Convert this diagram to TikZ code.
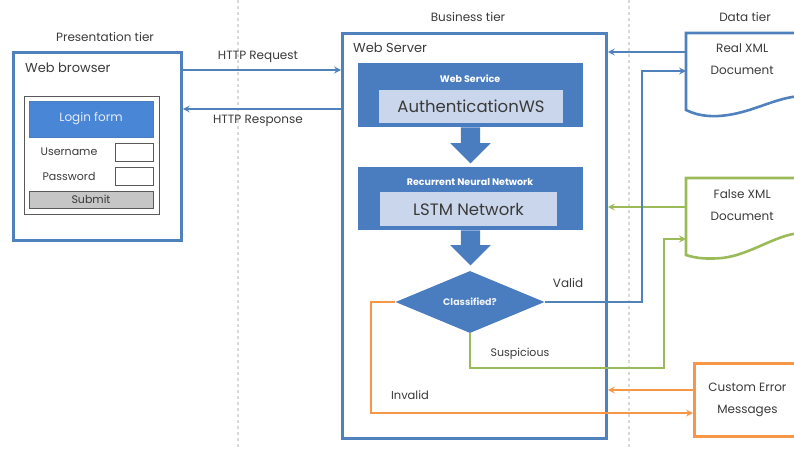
\documentclass[tikz,border=0pt]{standalone}
\usepackage{fontspec}
\setmainfont{Poppins}
\usetikzlibrary{positioning,shapes.geometric,shapes.arrows}
\definecolor{tierblue}{HTML}{4F81BD}
\definecolor{blockblue}{HTML}{4A7DC0}
\definecolor{loginblue}{HTML}{4A86D6}
\definecolor{innerblue}{HTML}{C9D6EB}
\definecolor{okgreen}{HTML}{9BBB59}
\definecolor{errorange}{HTML}{F79646}
\definecolor{txtgray}{HTML}{3A3A3A}
\begin{document}
\begin{tikzpicture}[x=1pt, y=-1pt,
    lbl/.style={font=\fontsize{12}{14}\selectfont, text=txtgray, inner sep=0pt},
    tierframe/.style={draw=#1, line width=2.8pt, anchor=north west, inner sep=0pt},
    block/.style={fill=blockblue, minimum width=225pt, minimum height=64pt, inner sep=0pt},
    innerbox/.style={fill=innerblue, minimum height=33pt, font=\fontsize{16.5}{18}\selectfont, text=txtgray, inner sep=0pt},
    blocktitle/.style={font=\fontsize{9.5}{11}\selectfont\bfseries, text=white, inner sep=0pt},
    fatarrow/.style={single arrow, fill=blockblue, inner sep=9.5pt, minimum height=36pt, single arrow head extend=10.5pt, single arrow head indent=0pt, shape border rotate=270, anchor=tail},
    docbox/.style={anchor=north west, minimum width=112pt, align=center, font=\fontsize{12}{22}\selectfont, text=txtgray, inner sep=0pt},
    field/.style={draw=gray!70!black, fill=white, line width=0.9pt, minimum width=38pt, minimum height=18pt, inner sep=0pt},
    link/.style={draw=#1, line width=2pt, ->, >=stealth},
    wire/.style={draw=#1, line width=2.6pt}
]
    \useasboundingbox (0,0) rectangle (794,450);

    % tier separators
    \foreach \xx in {238, 629} {
        \draw[gray!30, dashed, line width=1.3pt] (\xx,0) -- (\xx,450);
    }
    \node[lbl] (prestier) at (105,37) {Presentation tier};
    \node[lbl] (busitier) at (468,17) {Business tier};
    \node[lbl] (datatier) at (745,17) {Data tier};

    % Presentation tier
    \node[tierframe=tierblue, minimum width=168pt, minimum height=188pt] (browser) at (12,51) {};
    \node[lbl, anchor=west, font=\fontsize{13}{15}\selectfont] (browsertxt) at (25,68) {Web browser};
    \node[draw=gray!70!black, line width=0.9pt, anchor=north west, minimum width=135pt, minimum height=118pt] (form) at (24,96) {};
    \node[fill=loginblue, draw=blockblue, minimum width=124pt, minimum height=36pt, text=white!85!loginblue, font=\fontsize{12}{14}\selectfont] (login) at (91,119) {Login form};
    \foreach \lab/\yy in {Username/152, Password/176} {
        \node[lbl, font=\fontsize{11}{13}\selectfont] (lab\lab) at (69,\yy) {\lab};
        \node[field] (in\lab) at (134,\yy) {};
    }
    \node[fill=gray!45, draw=gray!70!black, line width=0.9pt, minimum width=124pt, minimum height=17pt, inner sep=0pt, font=\fontsize{11}{13}\selectfont, text=txtgray] (submit) at (91,199.5) {Submit};

    % Business tier
    \node[tierframe=tierblue, minimum width=264pt, minimum height=405pt] (server) at (341,32) {};
    \node[lbl, anchor=west, font=\fontsize{13}{15}\selectfont] (servertxt) at (353,48) {Web Server};

    \node[block] (websvc) at (470.5,95) {};
    \node[blocktitle] (websvctxt) at (470,79) {Web Service};
    \node[innerbox, minimum width=184pt] (authws) at (471,106.5) {AuthenticationWS};
    \node[fatarrow] (arrowa) at (websvc.south) {};

    \node[block, minimum height=63pt] (rnn) at (470.5,198.5) {};
    \node[blocktitle] (rnntxt) at (470,182) {Recurrent Neural Network};
    \node[innerbox, minimum width=177pt, minimum height=34pt] (lstm) at (468.5,209) {LSTM Network};
    \node[fatarrow, minimum height=35pt] (arrowb) at (rnn.south) {};

    \node[diamond, fill=blockblue, minimum width=149pt, minimum height=62pt, inner sep=0pt, text=white!90!blockblue, font=\fontsize{9.5}{11}\selectfont\bfseries] (classify) at (470,302) {Classified?};

    % Data tier
    \node[docbox, minimum height=52pt] (realxml) at (686,33) {Real XML\\Document};
    \draw[wire=tierblue] (830,33) -- (realxml.north west) -- (686,110) .. controls (700,117) and (715,117) .. (728,115) .. controls (755,111) and (775,98) .. (800,96);
    \node[docbox, minimum height=53pt] (falsexml) at (686,178) {False XML\\Document};
    \draw[wire=okgreen] (830,178) -- (falsexml.north west) -- (686,255) .. controls (698,259) and (710,259) .. (722,258) .. controls (750,255) and (775,235) .. (800,233);
    \node[tierframe=errorange, minimum width=106pt, minimum height=73pt, align=center, font=\fontsize{12}{22}\selectfont, text=txtgray] (errbox) at (693,362) {Custom Error\\Messages};

    % Browser <-> server
    \coordinate (reqout) at ([yshift=-19pt]browser.north east);
    \coordinate (resin) at ([yshift=-58pt]browser.north east);
    \draw[link=tierblue] (reqout) -- (reqout -| server.west);
    \draw[link=tierblue] (resin -| server.west) -- (resin);
    \node[lbl] (reqtxt) at (258,57) {HTTP Request};
    \node[lbl] (restxt) at (258,121) {HTTP Response};

    % Documents -> server
    \coordinate (realout) at ([yshift=-19pt]realxml.north west);
    \coordinate (validin) at ([yshift=-38pt]realxml.north west);
    \coordinate (falseout) at ([yshift=-29pt]falsexml.north west);
    \coordinate (suspin) at ([yshift=-61pt]falsexml.north west);
    \coordinate (errout) at ([yshift=-28pt]errbox.north west);
    \coordinate (errin) at ([yshift=-51pt]errbox.north west);
    \draw[link=tierblue] (realout) -- (realout -| server.east);
    \draw[link=okgreen] (falseout) -- (falseout -| server.east);
    \draw[link=errorange] (errout) -- (errout -| server.east);

    % Classification outcomes
    \draw[link=tierblue] (classify.east) -- ++(97,0) |- (validin);
    \draw[link=okgreen] (classify.south) -- ++(0,35) -- ++(194,0) |- (suspin);
    \draw[link=errorange] (classify.west) -- ++(-24,0) |- (errin);
    \node[lbl] (validtxt) at (568,283) {Valid};
    \node[lbl, font=\fontsize{11}{13}\selectfont] (susptxt) at (520,354) {Suspicious};
    \node[lbl, font=\fontsize{11.5}{13}\selectfont] (invtxt) at (410,395) {Invalid};

\end{tikzpicture}
\end{document}
